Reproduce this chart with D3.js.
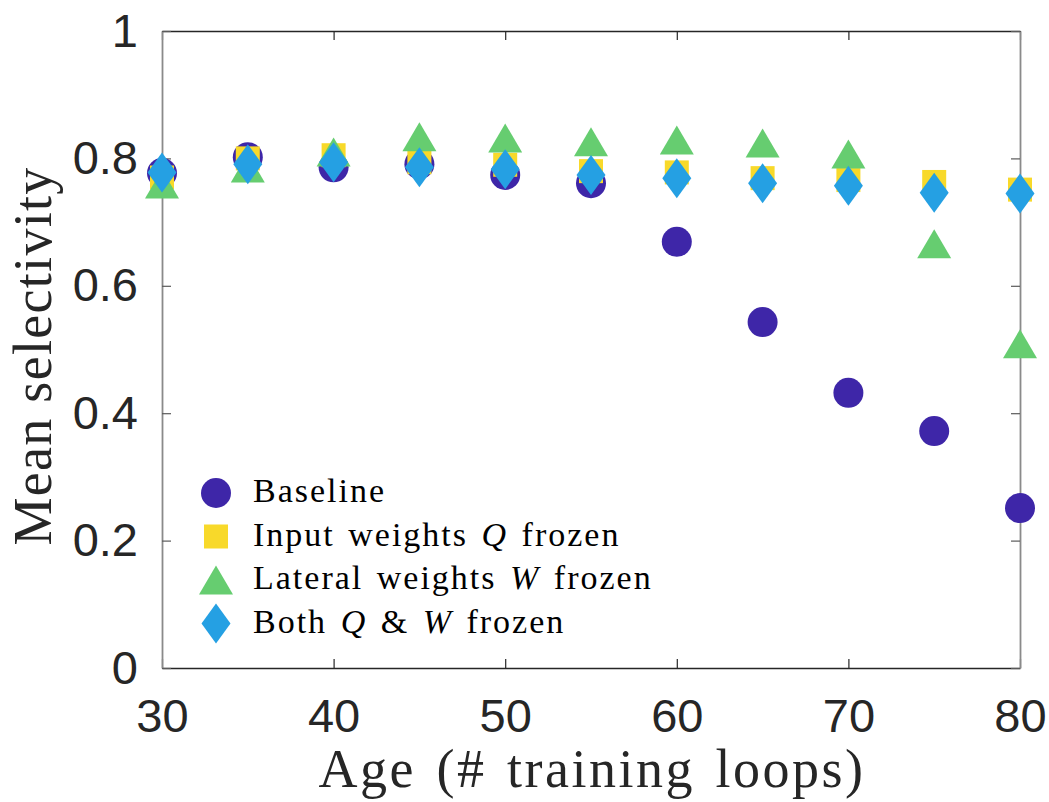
<!DOCTYPE html>
<html>
<head>
<meta charset="utf-8">
<script src="https://cdn.jsdelivr.net/npm/d3@7"></script>
<style>
  html, body { margin: 0; padding: 0; background: #fff; }
  svg { display: block; }
</style>
</head>
<body>
<svg id="chart" width="1049" height="802"></svg>
<script>
// Mean selectivity vs. age for four freezing conditions
const ages = [30, 35, 40, 45, 50, 55, 60, 65, 70, 75, 80];
const baseline      = [0.777, 0.802, 0.786, 0.791, 0.774, 0.761, 0.669, 0.543, 0.432, 0.372, 0.251];
const inputFrozen   = [0.770, 0.800, 0.805, 0.794, 0.790, 0.780, 0.778, 0.769, 0.766, 0.763, 0.751];
const lateralFrozen = [0.760, 0.785, 0.810, 0.834, 0.832, 0.826, 0.829, 0.824, 0.807, 0.666, 0.509];
const bothFrozen    = [0.778, 0.791, 0.794, 0.786, 0.783, 0.774, 0.769, 0.761, 0.757, 0.746, 0.745];

const xTicks = [30, 40, 50, 60, 70, 80];
const yTicks = [0, 0.2, 0.4, 0.6, 0.8, 1];

const series = [
  { values: baseline,      shape: "circle",   color: "#3e26a8", label: [["Baseline", false]] },
  { values: inputFrozen,   shape: "square",   color: "#f8d92a", label: [["Input weights ", false], ["Q", true], [" frozen", false]] },
  { values: lateralFrozen, shape: "triangle", color: "#66cd70", label: [["Lateral weights ", false], ["W", true], [" frozen", false]] },
  { values: bothFrozen,    shape: "diamond",  color: "#25a0e3", label: [["Both ", false], ["Q", true], [" & ", false], ["W", true], [" frozen", false]] }
];

const svg = d3.select("#chart");
const plot = { left: 162, right: 1020, top: 31, bottom: 668 };

const x = d3.scaleLinear().domain([30, 80]).range([plot.left, plot.right]);
const y = d3.scaleLinear().domain([0, 1]).range([plot.bottom, plot.top]);

const tickFont = "'Liberation Sans', Arial, Helvetica, sans-serif";
const serifFont = "'Liberation Serif', 'Times New Roman', serif";

// Marker shapes
function marker(g, shape, cx, cy, color) {
  if (shape === "circle") {
    g.append("circle").attr("cx", cx).attr("cy", cy).attr("r", 15).attr("fill", color);
  } else if (shape === "square") {
    g.append("rect").attr("x", cx - 12).attr("y", cy - 12).attr("width", 24).attr("height", 24).attr("fill", color);
  } else if (shape === "triangle") {
    const w = 17, h = 14.5;
    g.append("path").attr("d", `M${cx},${cy - h}L${cx + w},${cy + h}L${cx - w},${cy + h}Z`).attr("fill", color);
  } else if (shape === "diamond") {
    const w = 14.5, h = 20;
    g.append("path").attr("d", `M${cx},${cy - h}L${cx + w},${cy}L${cx},${cy + h}L${cx - w},${cy}Z`).attr("fill", color);
  }
}

// Axes box
const axisG = svg.append("g");

// x axis (bottom) and top mirror
const xAxisBottom = d3.axisBottom(x).tickValues(xTicks).tickSize(-9).tickSizeOuter(0).tickPadding(31)
  .tickFormat(d3.format("d"));
axisG.append("g").attr("transform", `translate(0,${plot.bottom})`).call(xAxisBottom)
  .call(g => {
    g.select(".domain").attr("stroke", "#262626").attr("stroke-width", 1.5);
    g.selectAll(".tick line").attr("stroke", "#262626").attr("stroke-width", 1.2);
    g.selectAll(".tick text").attr("font-family", tickFont).attr("font-size", 47).attr("fill", "#262626");
  });
const xAxisTop = d3.axisTop(x).tickValues(xTicks).tickSize(-9).tickSizeOuter(0).tickFormat("");
axisG.append("g").attr("transform", `translate(0,${plot.top})`).call(xAxisTop)
  .call(g => {
    g.select(".domain").attr("stroke", "#262626").attr("stroke-width", 1.5);
    g.selectAll(".tick line").attr("stroke", "#262626").attr("stroke-width", 1.2);
  });

// y axis (left) and right mirror
const yAxisLeft = d3.axisLeft(y).tickValues(yTicks).tickSize(-9).tickSizeOuter(0).tickPadding(24)
  .tickFormat(d => d === 0 || d === 1 ? d3.format("d")(d) : d3.format(".1f")(d));
axisG.append("g").attr("transform", `translate(${plot.left},0)`).call(yAxisLeft)
  .call(g => {
    g.select(".domain").attr("stroke", "#8a8a8a").attr("stroke-width", 1.8);
    g.selectAll(".tick line").attr("stroke", "#5a5a5a").attr("stroke-width", 1.2);
    g.selectAll(".tick text").attr("font-family", tickFont).attr("font-size", 47).attr("fill", "#262626");
  });
const yAxisRight = d3.axisRight(y).tickValues(yTicks).tickSize(-9).tickSizeOuter(0).tickFormat("");
axisG.append("g").attr("transform", `translate(${plot.right},0)`).call(yAxisRight)
  .call(g => {
    g.select(".domain").attr("stroke", "#8a8a8a").attr("stroke-width", 1.8);
    g.selectAll(".tick line").attr("stroke", "#5a5a5a").attr("stroke-width", 1.2);
  });

// Data markers, drawn in series order so later series sit on top
const markG = svg.append("g");
series.forEach(s => {
  const g = markG.append("g");
  s.values.forEach((v, i) => marker(g, s.shape, x(ages[i]), y(v), s.color));
});

// Axis labels
svg.append("text")
  .attr("x", (plot.left + plot.right) / 2 + 1)
  .attr("y", 787)
  .attr("text-anchor", "middle")
  .attr("font-family", serifFont)
  .attr("font-size", 54)
  .attr("letter-spacing", 2.5)
  .attr("word-spacing", 4.5)
  .attr("fill", "#262626")
  .text("Age (# training loops)");

svg.append("text")
  .attr("transform", `translate(51,356) rotate(-90)`)
  .attr("text-anchor", "middle")
  .attr("font-family", serifFont)
  .attr("font-size", 54)
  .attr("letter-spacing", 1.3)
  .attr("fill", "#262626")
  .text("Mean selectivity");

// Legend
const legend = svg.append("g");
const legendX = 216, legendY0 = 493, legendStep = 43.5;
series.forEach((s, i) => {
  const cy = legendY0 + i * legendStep;
  marker(legend, s.shape, legendX, cy, s.color);
  const t = legend.append("text")
    .attr("x", 253).attr("y", cy + 9)
    .attr("font-family", serifFont)
    .attr("font-size", 34)
    .attr("letter-spacing", 2)
    .attr("word-spacing", 3)
    .attr("fill", "#000");
  s.label.forEach(([txt, it]) => {
    t.append("tspan").attr("font-style", it ? "italic" : "normal").text(txt);
  });
});
</script>
</body>
</html>
